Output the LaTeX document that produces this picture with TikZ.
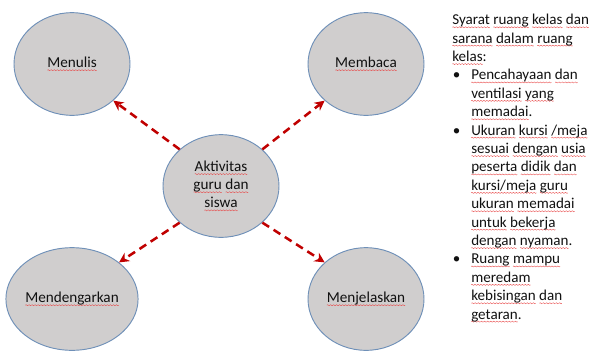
\documentclass[tikz,border=0pt]{standalone}
\usepackage{fontspec}
\setmainfont{Carlito}
\usetikzlibrary{shapes.geometric,arrows.meta}
\definecolor{ellfill}{HTML}{D0CECE}
\definecolor{elldraw}{HTML}{6F90B8}
\definecolor{arrred}{HTML}{C00000}
\definecolor{txt}{HTML}{111111}
\definecolor{wavered}{HTML}{E84848}
\newsavebox\wavebox
\newcommand\wv[1]{\setbox0\hbox{#1}\rlap{\lower2.4pt\hbox to\wd0{\xleaders\copy\wavebox\hfil}}\box0\relax}
\tikzset{
  bubble/.style={ellipse, draw=elldraw, line width=0.7pt, fill=ellfill,
    minimum width=87pt, minimum height=77pt, inner sep=0pt, align=center,
    text=txt, font=\fontsize{11.4}{13.6}\selectfont},
  link/.style={draw=arrred, line width=1.9pt, dash pattern=on 6pt off 4pt,
    -{Stealth[length=7.5pt,width=7.5pt]}},
  note/.style={anchor=north west, inner sep=0pt, align=left, text=txt,
    font=\fontsize{11.3}{13.8}\selectfont}
}
\begin{document}
\sbox\wavebox{\begin{pgfpicture}%
\pgfsetstrokecolor{wavered}%
\pgfsetlinewidth{0.3pt}%
\pgfpathmoveto{\pgfpoint{0pt}{0pt}}%
\pgfpathsine{\pgfpoint{0.55pt}{0.4pt}}%
\pgfpathcosine{\pgfpoint{0.55pt}{-0.4pt}}%
\pgfpathsine{\pgfpoint{0.55pt}{-0.4pt}}%
\pgfpathcosine{\pgfpoint{0.55pt}{0.4pt}}%
\pgfusepath{stroke}%
\pgfresetboundingbox
\pgfpathrectanglecorners{\pgfpoint{0pt}{-0.5pt}}{\pgfpoint{2.2pt}{0.5pt}}%
\pgfusepath{use as bounding box}%
\end{pgfpicture}}%
\begin{tikzpicture}[x=0.75pt,y=-0.75pt]
\useasboundingbox (0,0) rectangle (596,350);
\node[bubble] (menulis) at (72,64) {\wv{Menulis}};
\node[bubble] (membaca) at (366,64) {\wv{Membaca}};
\node[bubble] (center) at (221,186) {\wv{Aktivitas}\\\wv{guru} \wv{dan}\\\wv{siswa}};
\node[bubble] (mendengarkan) at (72,299) {\wv{Mendengarkan}};
\node[bubble] (menjelaskan) at (366,299) {\wv{Menjelaskan}};
\draw[link] (center.north west) -- (menulis.south east);
\draw[link] (center.north east) -- (membaca.south west);
\draw[link] (center.south west) -- (mendengarkan.north east);
\draw[link] (center.south east) -- (menjelaskan.north west);
\node[note] (syarat) at (452,14) {%
\wv{Syarat} \wv{ruang} \wv{kelas} \wv{dan}\\
\wv{sarana} \wv{dalam} \wv{ruang}\\
\wv{kelas}:\\
\makebox[14.25pt][l]{\hspace{0.5pt}\textbullet}\wv{Pencahayaan} \wv{dan}\\
\hspace*{14.25pt}\wv{ventilasi} \wv{yang}\\
\hspace*{14.25pt}\wv{memadai}.\\
\makebox[14.25pt][l]{\hspace{0.5pt}\textbullet}\wv{Ukuran} \wv{kursi} \wv{/meja}\\
\hspace*{14.25pt}\wv{sesuai} \wv{dengan} \wv{usia}\\
\hspace*{14.25pt}\wv{peserta} \wv{didik} \wv{dan}\\
\hspace*{14.25pt}\wv{kursi/meja} \wv{guru}\\
\hspace*{14.25pt}\wv{ukuran} \wv{memadai}\\
\hspace*{14.25pt}\wv{untuk} \wv{bekerja}\\
\hspace*{14.25pt}\wv{dengan} \wv{nyaman}.\\
\makebox[14.25pt][l]{\hspace{0.5pt}\textbullet}\wv{Ruang} \wv{mampu}\\
\hspace*{14.25pt}\wv{meredam}\\
\hspace*{14.25pt}\wv{kebisingan} \wv{dan}\\
\hspace*{14.25pt}\wv{getaran}.};
\end{tikzpicture}
\end{document}
